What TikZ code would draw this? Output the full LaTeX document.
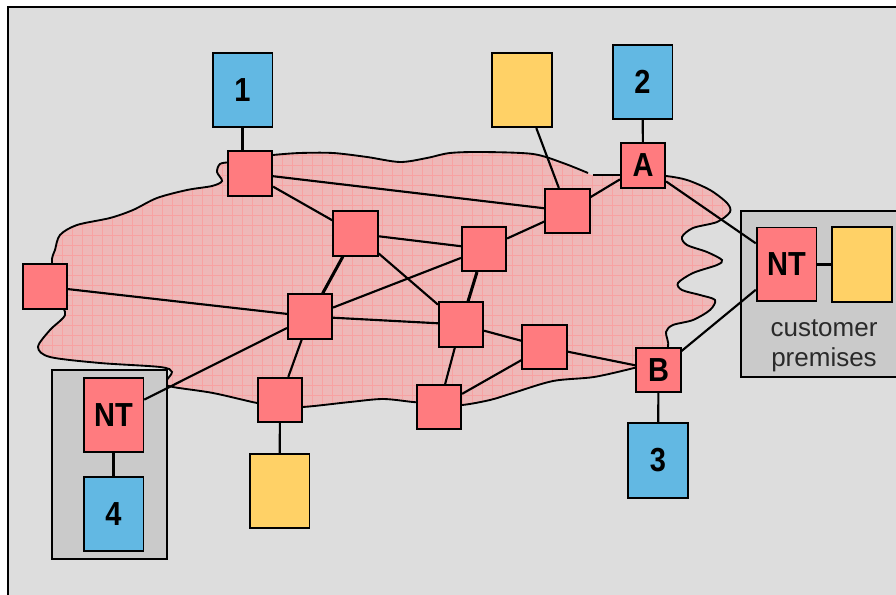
\documentclass[tikz,border=0pt]{standalone}
\usepackage{fontspec}
\setmainfont{Liberation Sans}
\definecolor{bgcol}{HTML}{DDDDDD}
\definecolor{boxgray}{HTML}{CACACA}
\definecolor{bluecol}{HTML}{62B8E3}
\definecolor{redcol}{HTML}{FF7B7F}
\definecolor{yelcol}{HTML}{FFD166}
\definecolor{cloudcol}{HTML}{EEB8B8}
\definecolor{gridcol}{HTML}{F8A2A2}
\definecolor{txtgray}{HTML}{2A2A2A}
\pgfdeclarelayer{back}
\pgfdeclarelayer{edges}
\pgfsetlayers{back,edges,main}
\newcommand\lblfont{\fontsize{25}{25}\selectfont\bfseries}
\newcommand\lbl[1]{\scalebox{0.87}[1]{#1}}
\begin{document}
\begin{tikzpicture}[x=0.75pt,y=-0.75pt,
  boxbase/.style={draw=black, line width=1.3pt, inner sep=0pt, font=\lblfont},
  router/.style={boxbase, fill=redcol, minimum width=33.3pt, minimum height=33.3pt},
  host/.style={boxbase, fill=bluecol, minimum width=44.8pt, minimum height=55.8pt},
  ybox/.style={boxbase, fill=yelcol, minimum width=44.8pt, minimum height=55.8pt},
  ntbox/.style={boxbase, fill=redcol, minimum width=44.8pt, minimum height=55.3pt},
  link/.style={draw=black, line width=1.6pt},
  thicklink/.style={draw=black, line width=2.3pt},
  frameline/.style={draw=black, line width=1.7pt},
  cloudline/.style={draw=black, line width=1.4pt},
  premises/.style={fill=boxgray, draw=black, line width=1.7pt}]
\useasboundingbox (0,0) rectangle (896,595);

% nodes
\node[host] (h1) at (242.5,90) {\lbl{1}};
\node[host] (h2) at (642.5,82) {\lbl{2}};
\node[host] (h3) at (658,460.5) {\lbl{3}};
\node[host] (h4) at (113.5,514) {\lbl{4}};
\node[ybox] (yT) at (522,90) {};
\node[ybox] (yB) at (279.5,491) {};
\node[ybox] (yR) at (862,264.5) {};
\node[ntbox] (ntR) at (786.5,264.5) {\lbl{NT}};
\node[ntbox] (ntL) at (113.5,415) {\lbl{NT}};
\node[router] (rA) at (643,165.5) {\lbl{A}};
\node[router] (rB) at (658.5,370) {\lbl{B}};
\node[router] (r1) at (250,173.5) {};
\node[router] (rT) at (567.5,211) {};
\node[router] (r3) at (355.5,233.5) {};
\node[router] (r4) at (484,249) {};
\node[router] (r5) at (310,316.5) {};
\node[router] (r6) at (461,324.5) {};
\node[router] (r7) at (544.5,347) {};
\node[router] (r8) at (280,400) {};
\node[router] (r9) at (439,407) {};
\node[router] (r0) at (45,286.5) {};
\node[font=\fontsize{19.5}{22.5}\selectfont, text=txtgray, align=center, inner sep=0pt] (cp) at (824,346) {customer\\premises};

\begin{pgfonlayer}{back}
  \fill[white] (0,0) rectangle (896,595);
  \fill[bgcol] (8,7) rectangle (896,595);
  \draw[frameline] (8,596) -- (8,7) -- (896,7);
  \begin{scope}
    \clip plot[smooth cycle] coordinates {(593,175) (620,175) (643,175) (666,176) (687,180) (710,190) (727,203) (730,212) (717,222) (693,228) (682,237) (687,245) (707,252) (722,260) (717,265) (693,273) (678,283) (682,290) (700,295) (715,300) (710,310) (693,320) (673,325) (666,332) (668,347) (655,362) (634,368) (594,377) (553,381) (513,393) (490,400) (462,405) (440,404) (413,402) (383,399) (350,402) (303,407) (280,406) (257,403) (213,393) (173,387) (165,383) (172,372) (160,367) (100,363) (50,357) (38,347) (50,330) (65,315) (60,300) (52,263) (55,250) (60,235) (77,225) (110,218) (133,210) (157,198) (187,190) (212,186) (222,181) (217,172) (220,164) (230,162) (250,158) (273,155) (300,153) (333,153) (367,157) (400,162) (427,158) (450,153) (483,152) (533,154) (563,163) (588,173)};
    \fill[cloudcol] (0,130) rectangle (760,420);
    \foreach \gx in {2.7,12.7,...,752.7} \draw[gridcol, line width=0.45pt] (\gx,130) -- (\gx,420);
    \foreach \gy in {135,145,...,415} \draw[gridcol, line width=0.45pt] (0,\gy) -- (760,\gy);
  \end{scope}
  \draw[cloudline] plot[smooth] coordinates {(593,175) (620,175) (643,175) (666,176) (687,180) (710,190) (727,203) (730,212) (717,222) (693,228) (682,237) (687,245) (707,252) (722,260) (717,265) (693,273) (678,283) (682,290) (700,295) (715,300) (710,310) (693,320) (673,325) (666,332) (668,347) (655,362) (634,368) (594,377) (553,381) (513,393) (490,400) (462,405) (440,404) (413,402) (383,399) (350,402) (303,407) (280,406) (257,403) (213,393) (173,387) (165,383) (172,372) (160,367) (100,363) (50,357) (38,347) (50,330) (65,315) (60,300) (52,263) (55,250) (60,235) (77,225) (110,218) (133,210) (157,198) (187,190) (212,186) (222,181) (217,172) (220,164) (230,162) (250,158) (273,155) (300,153) (333,153) (367,157) (400,162) (427,158) (450,153) (483,152) (533,154) (563,163) (588,173)};
  \fill[boxgray] (741,211) rectangle (896,377);
  \draw[frameline] (896,211) -- (741,211) -- (741,377) -- (896,377);
  \filldraw[premises] (52,370) rectangle (167,559);
\end{pgfonlayer}

\begin{pgfonlayer}{edges}
  \draw[link] (h1) -- (h1 |- r1.north);
  \draw[link] (h2) -- (rA);
  \draw[link] (h3) -- (rB);
  \draw[link] (yT) -- (rT);
  \draw[link] (yB) -- (r8);
  \draw[link] (ntL) -- (h4);
  \draw[link] (ntR) -- (yR);
  \draw[link] (rA) -- (rT);
  \draw[link] (rA) -- (ntR);
  \draw[link] (rB) -- (ntR);
  \draw[link] (r1) -- (rT);
  \draw[link] (r1) -- (r3);
  \draw[link] (r3) -- (r4);
  \draw[thicklink] (r3) -- (r5);
  \draw[link] (r3) -- (r6);
  \draw[link] (r4) -- (rT);
  \draw[link] (r4) -- (r5);
  \draw[thicklink] (r4) -- (r6);
  \draw[link] (r0) -- (r5);
  \draw[link] (r5) -- (r6);
  \draw[link] (r5) -- (r8);
  \draw[link] (r5) -- (ntL);
  \draw[link] (r6) -- (r7);
  \draw[link] (r6) -- (r9);
  \draw[link] (r9) -- (r7);
  \draw[link] (r7) -- (rB);
\end{pgfonlayer}
\end{tikzpicture}
\end{document}
